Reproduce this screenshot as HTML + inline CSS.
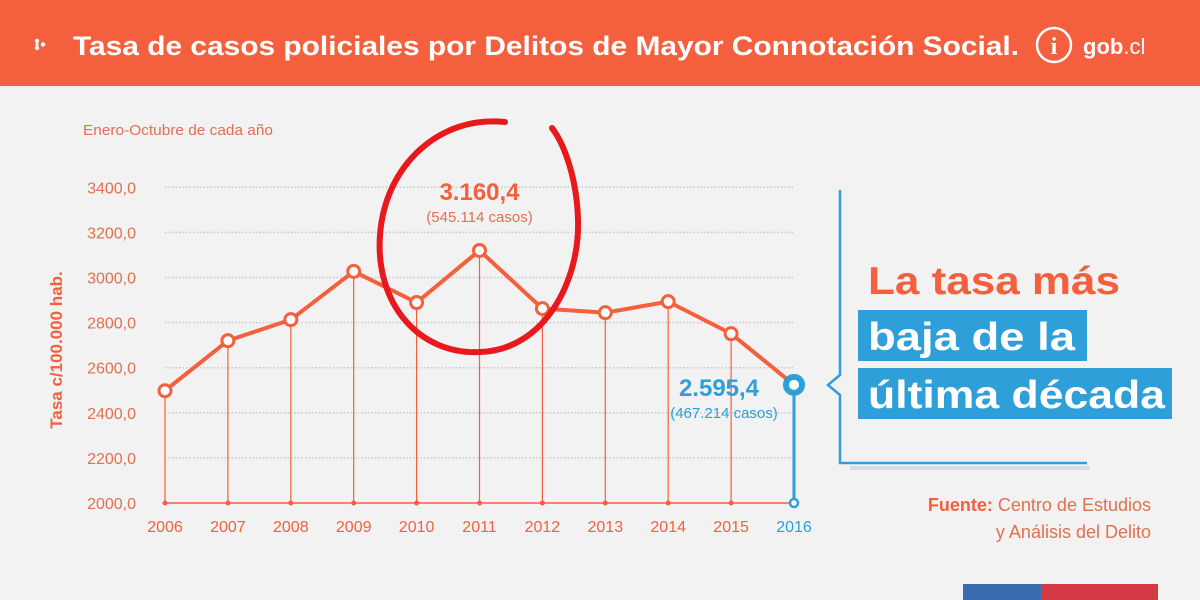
<!DOCTYPE html>
<html><head><meta charset="utf-8"><style>
body{margin:0;width:1200px;height:600px;overflow:hidden;background:#f2f2f2;font-family:"Liberation Sans",sans-serif;}
</style></head><body>
<svg width="1200" height="600" xmlns="http://www.w3.org/2000/svg" style="display:block">
<rect x="0" y="0" width="1200" height="600" fill="#f2f2f2"/>
<rect x="0" y="0" width="1200" height="86" fill="#f4603e"/>
<g fill="#fff"><circle cx="37" cy="41" r="2.2"/><circle cx="37" cy="48" r="2.2"/><circle cx="43" cy="44.5" r="2.2"/><circle cx="37" cy="44.5" r="1.6"/></g>
<text x="73" y="55" fill="#fff" font-size="27" font-weight="bold" textLength="946" lengthAdjust="spacingAndGlyphs">Tasa de casos policiales por Delitos de Mayor Connotación Social.</text>
<circle cx="1054" cy="45" r="17" fill="none" stroke="#fff" stroke-width="2.5"/>
<text x="1054" y="54" fill="#fff" font-size="24" font-weight="bold" text-anchor="middle" font-family="Liberation Serif,serif">i</text>
<text x="1083" y="54" fill="#fff" font-size="22"><tspan font-weight="bold">gob</tspan>.cl</text>
<text x="83" y="135" fill="#e0704f" font-size="15" textLength="190" lengthAdjust="spacingAndGlyphs">Enero-Octubre de cada año</text>
<text transform="translate(62,350) rotate(-90)" fill="#f4603e" font-size="17" font-weight="bold" text-anchor="middle">Tasa c/100.000 hab.</text>
<g id="chart"></g>
<path d="M840 190 L840 375 L828 385 L840 395 L840 463 L1087 463" fill="none" stroke="#2e9fd8" stroke-width="2.5"/>
<rect x="850" y="466" width="240" height="4" fill="#ddd"/>
<text x="868" y="294" fill="#f4603e" font-size="39" font-weight="bold" textLength="252" lengthAdjust="spacingAndGlyphs">La tasa más</text>
<rect x="858" y="310" width="229" height="51" fill="#2e9fd8"/>
<text x="868" y="350" fill="#fff" font-size="39" font-weight="bold" textLength="207" lengthAdjust="spacingAndGlyphs">baja de la</text>
<rect x="858" y="368" width="314" height="51" fill="#2e9fd8"/>
<text x="868" y="408" fill="#fff" font-size="39" font-weight="bold" textLength="297" lengthAdjust="spacingAndGlyphs">última década</text>
<text x="1151" y="511" fill="#e0704f" font-size="18" text-anchor="end"><tspan font-weight="bold" fill="#f4603e">Fuente:</tspan> Centro de Estudios</text>
<text x="1151" y="538" fill="#e0704f" font-size="18" text-anchor="end">y Análisis del Delito</text>
<rect x="963" y="584" width="78" height="16" fill="#3a6db0"/>
<rect x="1041" y="584" width="117" height="16" fill="#d33a46"/>
<path d="M505 122 C440 115 385 165 380 235 C375 305 420 355 480 352 C545 350 580 280 578 220 C577 180 565 145 552 128" fill="none" stroke="#e8191c" stroke-width="6" stroke-linecap="round"/>
</svg>
<script>
const years=["2006","2007","2008","2009","2010","2011","2012","2013","2014","2015","2016"];
const values=[2498,2720,2813,3027,2889,3120,2862,2844,2893,2751,2524];
const yTicks=[2000,2200,2400,2600,2800,3000,3200,3400];
const yTickLabels=["2000,0","2200,0","2400,0","2600,0","2800,0","3000,0","3200,0","3400,0"];
const NS="http://www.w3.org/2000/svg";
const g=document.getElementById('chart');
const X=i=>165+i*62.9;
const Y=v=>503-(v-2000)/200*45.1;
const OR="#f4603e",BL="#2e9fd8";
function mk(t,a,p){const e=document.createElementNS(NS,t);for(const k in a)e.setAttribute(k,a[k]);(p||g).appendChild(e);return e;}
yTicks.forEach((t,i)=>{
  if(i>0){const l=mk('line',{x1:165,x2:795,y1:Y(t),y2:Y(t),stroke:'#c8c8c8','stroke-width':1.5,'stroke-dasharray':'1.5 2'});
  
  }
  const tx=mk('text',{x:136,y:Y(t)+6,fill:'#e0704f','font-size':16,'text-anchor':'end'});tx.textContent=yTickLabels[i];
  
  
});
const ax=mk('line',{x1:165,x2:X(9),y1:503,y2:503,stroke:OR,'stroke-width':1.5});


const ax2=mk('line',{x1:X(9),x2:X(10),y1:503,y2:503,stroke:OR,'stroke-width':1.5});


years.forEach((yr,i)=>{
  const last=i===years.length-1,c=last?BL:OR;
  const d=mk('line',{x1:X(i),x2:X(i),y1:Y(values[i]),y2:503,stroke:c,'stroke-width':last?3:1.2});
  
  
  const dot=last?mk('circle',{cx:X(i),cy:503,r:4,fill:'#fff',stroke:BL,'stroke-width':2.5}):mk('circle',{cx:X(i),cy:503,r:2.5,fill:OR});
  
  
  const t=mk('text',{x:X(i),y:532,fill:c,'font-size':16,'text-anchor':'middle'});t.textContent=yr;
  
  
});
const pts=values.map((v,i)=>X(i)+','+Y(v)).join(' ');
const pl=mk('polyline',{points:pts,fill:'none',stroke:OR,'stroke-width':4,'stroke-linejoin':'round'});


values.forEach((v,i)=>{
  const last=i===values.length-1;
  const c=mk('circle',{cx:X(i),cy:Y(v),r:last?8:6,fill:'#fff',stroke:last?BL:OR,'stroke-width':last?6:3});
  
  
});
function lab(x,y,s,sz,col,bold,name){const t=mk('text',{x:x,y:y,fill:col,'font-size':sz,'text-anchor':'middle','font-weight':bold?'bold':'normal'});t.textContent=s;

}
lab(X(5),200,"3.160,4",24,OR,true,'peak-value-label');
lab(X(5),222,"(545.114 casos)",15,'#e0704f',false,'peak-cases-label');
lab(X(10)-75,396,"2.595,4",24,BL,true,'last-value-label');
lab(X(10)-70,418,"(467.214 casos)",15,BL,false,'last-cases-label');
</script>
</body></html>
